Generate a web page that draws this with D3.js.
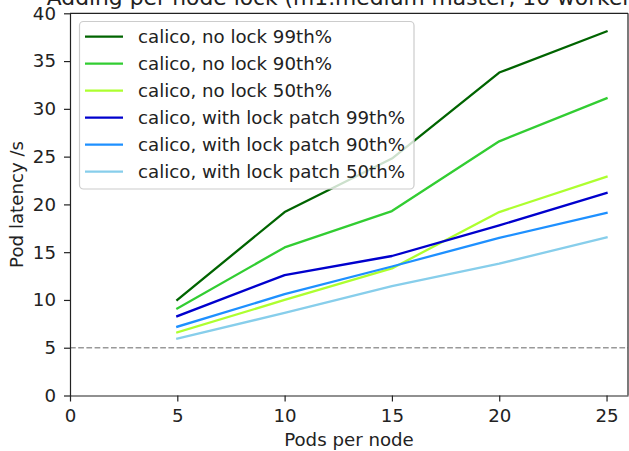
<!DOCTYPE html>
<html>
<head>
<meta charset="utf-8">
<script src="https://cdn.jsdelivr.net/npm/d3@7"></script>
<style>
  html, body { margin: 0; padding: 0; background: #fff; }
  svg { display: block; font-family: "DejaVu Sans", sans-serif; }
</style>
</head>
<body>
<svg id="chart" width="629" height="451"></svg>
<script>
// pods per node (x)
const podsPerNode = [5, 10, 15, 20, 25];

// latency series (seconds)
const noLock99 = [10.0, 19.2, 24.8, 33.8, 38.1];
const noLock90 = [9.1, 15.5, 19.3, 26.6, 31.1];
const noLock50 = [6.6, 10.0, 13.3, 19.2, 22.9];
const lock99 = [8.3, 12.6, 14.6, 17.8, 21.2];
const lock90 = [7.2, 10.6, 13.5, 16.5, 19.1];
const lock50 = [5.95, 8.65, 11.45, 13.8, 16.55];

const seriesNames = [
  "calico, no lock 99th%",
  "calico, no lock 90th%",
  "calico, no lock 50th%",
  "calico, with lock patch 99th%",
  "calico, with lock patch 90th%",
  "calico, with lock patch 50th%",
];
const seriesColors = ["#006400", "#32cd32", "#adff2f", "#0000cd", "#1e90ff", "#87ceeb"];
const seriesValues = [noLock99, noLock90, noLock50, lock99, lock90, lock50];

const xTicks = [0, 5, 10, 15, 20, 25];
const yTicks = [0, 5, 10, 15, 20, 25, 30, 35, 40];
const targetLatency = 5;

const titulo = "Adding per-node lock (m1.medium master, 10 workers)";
const rotuloX = "Pods per node";
const rotuloY = "Pod latency /s";

const svg = d3.select("#chart");
const fonte = 18.2;

// área do gráfico
const esq = 70, dir = 628, topo = 13.3, base = 395.5;

const x = d3.scaleLinear().domain([0, 26]).range([esq, dir]);
const y = d3.scaleLinear().domain([0, 40]).range([base, topo]);

// linha tracejada de referência
svg.append("line")
  .attr("x1", esq).attr("x2", dir)
  .attr("y1", y(targetLatency)).attr("y2", y(targetLatency))
  .attr("stroke", "#999").attr("stroke-width", 1.55)
  .attr("stroke-dasharray", "5.7,2.5");

// séries
const linha = d3.line().x((d, i) => x(podsPerNode[i])).y(d => y(d));
seriesValues.forEach((vals, k) => {
  svg.append("path")
    .datum(vals)
    .attr("d", linha)
    .attr("fill", "none")
    .attr("stroke", seriesColors[k])
    .attr("stroke-width", 2.3)
    .attr("stroke-linejoin", "round")
    .attr("stroke-linecap", "square");
});

// eixos
const eixoX = svg.append("g")
  .attr("transform", `translate(0,${base})`)
  .call(d3.axisBottom(x).tickValues(xTicks).tickSize(6).tickPadding(8).tickSizeOuter(0));
const eixoY = svg.append("g")
  .attr("transform", `translate(${esq},0)`)
  .call(d3.axisLeft(y).tickValues(yTicks).tickSize(6).tickPadding(8).tickSizeOuter(0));

[eixoX, eixoY].forEach(g => {
  g.selectAll("text").attr("font-size", fonte).attr("fill", "#222")
    .attr("font-family", "DejaVu Sans");
  g.selectAll("line").attr("stroke", "#222").attr("stroke-width", 1.2);
  g.select(".domain").attr("stroke", "#222").attr("stroke-width", 1.2);
});

// bordas superior e direita
svg.append("line").attr("x1", esq).attr("x2", dir).attr("y1", topo).attr("y2", topo)
  .attr("stroke", "#222").attr("stroke-width", 1.2);
svg.append("line").attr("x1", dir).attr("x2", dir).attr("y1", topo).attr("y2", base)
  .attr("stroke", "#222").attr("stroke-width", 1.2);

// título (cortado no topo, como no original)
svg.append("text")
  .attr("x", (esq + dir) / 2).attr("y", 5)
  .attr("text-anchor", "middle")
  .attr("font-size", 21.8).attr("fill", "#222")
  .text(titulo);

svg.append("text")
  .attr("x", (esq + dir) / 2).attr("y", 446)
  .attr("text-anchor", "middle")
  .attr("font-size", fonte).attr("fill", "#222")
  .text(rotuloX);

svg.append("text")
  .attr("transform", `translate(23,${(topo + base) / 2}) rotate(-90)`)
  .attr("text-anchor", "middle")
  .attr("font-size", fonte).attr("fill", "#222")
  .text(rotuloY);

// legenda
const leg = svg.append("g");
leg.append("rect")
  .attr("x", 79.5).attr("y", 21.5).attr("width", 334.5).attr("height", 167.5)
  .attr("rx", 4).attr("fill", "#fff").attr("fill-opacity", 0.8)
  .attr("stroke", "#ccc").attr("stroke-width", 1.2);
seriesNames.forEach((nome, k) => {
  const ly = 36.7 + k * 27;
  leg.append("line")
    .attr("x1", 85).attr("x2", 123).attr("y1", ly).attr("y2", ly)
    .attr("stroke", seriesColors[k]).attr("stroke-width", 2.3);
  leg.append("text")
    .attr("x", 138).attr("y", ly).attr("dy", "0.36em")
    .attr("font-size", fonte).attr("fill", "#222")
    .text(nome);
});
</script>
</body>
</html>
